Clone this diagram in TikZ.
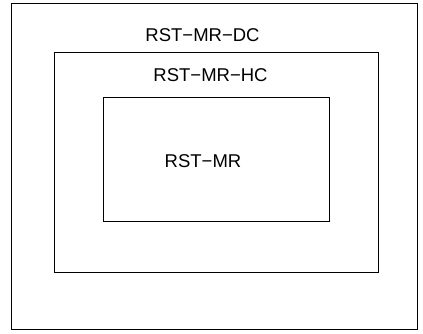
\documentclass[tikz,border=0pt]{standalone}
\usepackage{fontspec}
\setmainfont{Liberation Sans}
\tikzset{box/.style={draw=black, line width=0.9pt},
lbl/.style={font=\fontsize{18.5}{22}\selectfont, inner sep=0pt}}
\begin{document}
\begin{tikzpicture}[x=1pt,y=-1pt]
\useasboundingbox (0,0) rectangle (423,333);
\draw[box] (11.5,3.5) rectangle (417.5,329);
\draw[box] (54.5,52) rectangle (378,272);
\draw[box] (103,97.5) rectangle (329.5,221);
\node[lbl] (dc) at (202.5,35.5) {RST−MR−DC};
\node[lbl] (hc) at (210.5,75.5) {RST−MR−HC};
\node[lbl] (mr) at (203,161) {RST−MR};
\end{tikzpicture}
\end{document}
